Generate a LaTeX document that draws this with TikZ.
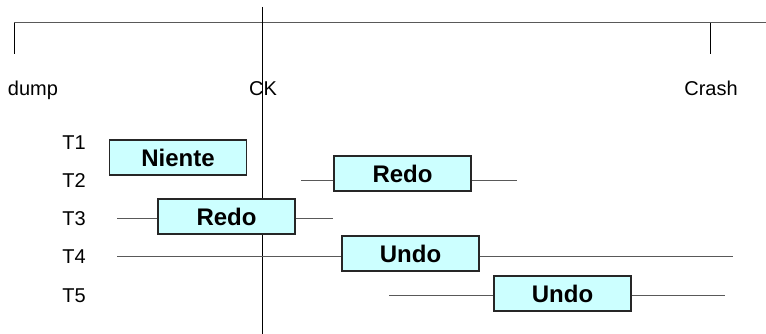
\documentclass[tikz,border=0pt]{standalone}
\usepackage{fontspec}
\setmainfont{Liberation Sans}
\usepackage{tikz}
\usetikzlibrary{positioning}
\definecolor{boxcyan}{HTML}{CCFFFF}
\tikzstyle{op}=[rectangle, draw=black!85, line width=0.8pt, fill=boxcyan, minimum width=102.75pt, minimum height=26.25pt,
        inner sep=0pt, text centered, font=\fontsize{18}{21}\selectfont\bfseries]
\tikzstyle{tlab}=[anchor=base, inner sep=0pt, font=\fontsize{15}{17}\selectfont]
\tikzstyle{life}=[draw=black!65, line width=0.75pt]
\tikzstyle{tick}=[draw=black, line width=0.7pt]

\begin{document}
\begin{tikzpicture}[x=0.75pt, y=-0.75pt]
\useasboundingbox (0,0) rectangle (766,334);
% time axis
\coordinate (axL) at (14,23);
\coordinate (axR) at (766,23);
\coordinate (dumpB) at (14,54);
\coordinate (crashT) at (710,23);
\coordinate (crashB) at (710,54);
\coordinate (ckT) at (262,7);
\coordinate (ckB) at (262,334);
\draw[life] (axL) -- (axR);
\draw[tick] (axL) -- (dumpB);
\draw[tick] (crashT) -- (crashB);
\draw[tick] (ckT) -- (ckB);
\node [tlab] (dump) at (33,96) {dump};
\node [tlab] (ck) at (263,96) {CK};
\node [tlab] (crash) at (711,96) {Crash};
% transactions
\node [tlab] (t1) at (74,150) {T1};
\node [tlab] (t2) at (74,188) {T2};
\node [tlab] (t3) at (74,226) {T3};
\node [tlab] (t4) at (74,264) {T4};
\node [tlab] (t5) at (74,302) {T5};
\node [op] (niente) at (178,157.5) {Niente};
\node [op] (redoA) at (402.5,173.5) {Redo};
\node [op] (redoB) at (226.5,216.5) {Redo};
\node [op] (undoA) at (410.5,253.5) {Undo};
\node [op] (undoB) at (562.5,293.5) {Undo};
\coordinate (s2) at (301,181);
\coordinate (e2) at (517,181);
\coordinate (s3) at (117,219);
\coordinate (e3) at (333,219);
\coordinate (s4) at (117,257);
\coordinate (e4) at (733,257);
\coordinate (s5) at (389,295);
\coordinate (e5) at (725,295);
\draw[life] (s2) -- (redoA.west |- s2);
\draw[life] (redoA.east |- e2) -- (e2);
\draw[life] (s3) -- (redoB.west |- s3);
\draw[life] (redoB.east |- e3) -- (e3);
\draw[life] (s4) -- (undoA.west |- s4);
\draw[life] (undoA.east |- e4) -- (e4);
\draw[life] (s5) -- (undoB.west |- s5);
\draw[life] (undoB.east |- e5) -- (e5);
\end{tikzpicture}
\end{document}
